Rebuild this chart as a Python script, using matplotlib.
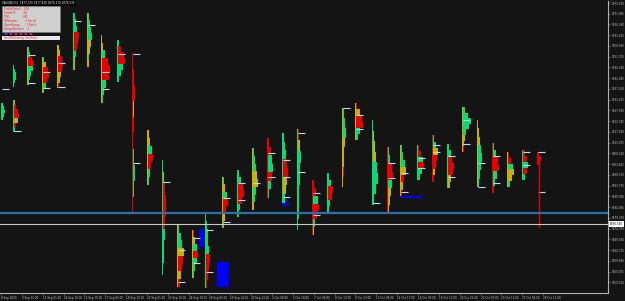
import matplotlib
matplotlib.use("Agg")
import matplotlib.pyplot as plt
from matplotlib.patches import Rectangle, Circle

# x = H1 bar index, y = price
x_ticks = [32 * k for k in range(27)]
x_labels = ["8 Sep 2020", "9 Sep 15:00", "11 Sep 01:00", "14 Sep 10:00", "15 Sep 19:00",
            "17 Sep 05:00", "18 Sep 15:00", "22 Sep 01:00", "23 Sep 10:00", "24 Sep 19:00",
            "28 Sep 05:00", "29 Sep 14:00", "30 Sep 23:00", "2 Oct 09:00", "5 Oct 18:00",
            "7 Oct 04:00", "8 Oct 13:00", "9 Oct 23:00", "13 Oct 08:00", "14 Oct 17:00",
            "16 Oct 03:00", "19 Oct 12:00", "20 Oct 21:00", "22 Oct 07:00", "23 Oct 16:00",
            "27 Oct 02:00", "28 Oct 11:00"]
y_ticks = [1975.930, 1971.095, 1966.260, 1961.425, 1956.590, 1951.755, 1946.920,
           1942.085, 1937.250, 1932.415, 1927.580, 1922.745, 1917.910, 1913.075,
           1908.240, 1903.405, 1898.570, 1893.735, 1888.900, 1884.065, 1879.230,
           1874.395, 1869.560, 1864.725, 1859.890, 1855.055, 1850.220]

# daily market profiles
prof_base = [0, 18.4, 18.4, 39.9, 62.9, 85.9, 110.5, 132.0, 153.5, 178.0,
             201.0, 224.1, 247.1, 270.1, 293.1, 313.1, 339.2, 362.2, 385.2, 408.2,
             431.3, 454.3, 477.3, 500.3, 523.3, 543.3, 569.4, 592.4, 612.3, 638.4,
             661.5, 684.5, 707.5, 730.5, 753.5, 776.6, 799.6, 822.6]
prof_top = [1930.9, 1948.0, 1932.3, 1956.1, 1951.6, 1957.0, 1971.4, 1971.4, 1961.5, 1959.3,
            1953.4, 1918.8, 1905.3, 1876.1, 1873.8, 1881.9, 1897.7, 1900.8, 1910.7, 1915.2,
            1917.5, 1919.3, 1896.3, 1899.5, 1928.7, 1931.0, 1923.3, 1911.2, 1912.1, 1912.1,
            1916.6, 1912.5, 1929.2, 1923.3, 1913.0, 1908.9, 1909.8, 1908.9]
prof_bottom = [1923.3, 1938.1, 1917.9, 1939.0, 1935.5, 1937.7, 1945.8, 1947.1, 1931.0, 1940.4,
               1881.5, 1894.1, 1853.6, 1848.2, 1852.2, 1847.7, 1874.7, 1879.7, 1882.8, 1888.2,
               1886.0, 1873.8, 1871.6, 1881.5, 1893.2, 1914.3, 1885.1, 1881.5, 1888.7, 1896.3,
               1895.4, 1892.7, 1908.9, 1893.2, 1890.5, 1893.2, 1896.3, 1903.1]
prof_tpo = [[2, 3, 4, 3, 2], [1, 2, 3, 3, 2, 1], [2, 3, 5, 6, 5, 3, 2], [2, 3, 5, 7, 6, 4, 3, 2],
            [2, 4, 6, 7, 5, 4, 2], [2, 3, 5, 6, 5, 4, 3, 2], [2, 3, 4, 6, 5, 4, 3, 2, 2],
            [2, 3, 4, 5, 4, 3, 2, 2], [1, 2, 4, 7, 9, 8, 5, 3, 2], [2, 4, 7, 8, 6, 4, 2],
            [1, 2, 3, 2, 2, 1, 2, 3, 2, 1], [2, 3, 5, 6, 4, 3, 2], [1, 2, 3, 4, 4, 3, 3, 2, 2, 1],
            [2, 4, 5, 7, 6, 5, 4, 3], [2, 3, 5, 6, 5, 3, 2], [1, 2, 3, 3, 4, 5, 4, 3, 2],
            [2, 3, 5, 6, 4, 3, 2], [2, 4, 6, 7, 5, 3, 2], [2, 3, 4, 5, 6, 4, 3, 2],
            [2, 4, 5, 6, 5, 4, 2], [2, 3, 4, 5, 6, 5, 4, 3], [2, 3, 4, 3, 3, 2, 2, 2, 1],
            [2, 4, 6, 7, 5, 3, 2], [2, 4, 6, 5, 3, 2], [2, 3, 4, 3, 2, 2, 2, 1],
            [2, 5, 7, 8, 5, 3], [1, 2, 3, 4, 5, 6, 4, 2], [2, 3, 5, 6, 5, 4, 3, 2],
            [2, 3, 5, 6, 4, 3, 2], [2, 4, 6, 7, 5, 3], [2, 4, 6, 5, 4, 3, 2],
            [2, 4, 5, 7, 6, 4, 3], [3, 6, 9, 7, 4, 3, 2, 2], [1, 2, 3, 4, 5, 4, 3, 2],
            [2, 4, 6, 7, 5, 3, 2], [2, 4, 6, 7, 5, 3], [3, 5, 6, 5, 3], [2, 4, 3]]
prof_cols = ["ggggg", "gggggg", "yrrryrg", "ggrrgggg", "gyrrrgg", "yyrrryyr", "gggrrrgyy",
             "ggggyygy", "yygrrrggg", "grrrggg", "rrryrrgggg", "yygrrgg", "yyrrrrgggg",
             "gggyrryr", "rygrggg", "gggggrrrr", "gygrryg", "ggrrrgg", "gggyyggy", "rrggrgg",
             "gggrryyg", "ryggggggg", "rrgrrgy", "ggrrgg", "gggyyyry", "ryrrgg", "ryyygggg",
             "ggrrgyyy", "gggyryr", "rrgrgg", "ggyrryr", "ggrrryy", "gggggyyr", "ryyggggg",
             "ggrrggr", "rrgyyg", "rrgrg", "rrr"]
# colour of the first (opening) TPO column
prof_open = "gggyyygyygrygyygygyrggrgyygrygrgyyrygr"
prof_marks = [[1937.3], [], [1918.4], [1952.5, 1940.0], [1944.9, 1937.7], [1948.9, 1938.1],
              [1967.8], [1966.0], [1944.9, 1937.3], [1953.0], [1953.0, 1904.0], [], [1895.4],
              [1864.8, 1850.4], [1870.2, 1859.0], [1873.8, 1854.9], [1888.2, 1877.4],
              [1895.0, 1887.3], [1895.0], [1908.5, 1897.7], [1905.3, 1897.7, 1888.7],
              [1917.5, 1899.9], [1890.5, 1880.6], [], [1928.7], [1925.6, 1919.3], [1886.0],
              [1904.0, 1897.2], [1899.5, 1890.9], [1906.2, 1901.7], [1912.1, 1908.9],
              [1907.1, 1897.7], [1923.3, 1912.5], [1904.0, 1893.2], [1907.1, 1895.0], [],
              [1908.9, 1903.1], [1908.9, 1890.9]]

# blue boxes: left bar, right bar, low, high
box_left = [303.9, 331.5, 431.3, 612.3]
box_right = [311.6, 349.9, 442.0, 646.1]
box_low = [1866.2, 1848.2, 1884.6, 1888.2]
box_high = [1874.3, 1859.4, 1886.0, 1889.1]

last_bar = 825.7
last_low = 1875.2
level_line = 1881.5
bid_price = 1876.53

info_lines = ["ProfileDetail  : 100", "ProfileTF       : D1", "TPO              : M1",
              "IBNumber       : 1 Per(s)", "OpenRange     : 1 Pip(s)", "RangeNumber  : 3"]

col_map = {"g": "#00dd78", "r": "#e80000", "y": "#c8b000"}
tpo_w = 1.5
bg = "#141414"

fig = plt.figure(figsize=(6.25, 3.01), dpi=100, facecolor=bg)
ax = fig.add_axes([0.0, 8 / 301, 608 / 625, 292 / 301], facecolor=bg)

for i in range(len(prof_base)):
    n = len(prof_tpo[i])
    h = (prof_top[i] - prof_bottom[i]) / n
    ys = [prof_top[i] - (k + 0.5) * h for k in range(n)]
    ws = [c * tpo_w for c in prof_tpo[i]]
    cs = [col_map[c] for c in prof_cols[i]]
    ax.barh(ys, ws, left=prof_base[i], height=h, color=cs, linewidth=0)
    ax.barh(ys, [tpo_w] * n, left=prof_base[i], height=h,
            color=col_map[prof_open[i]], linewidth=0)
    for m in prof_marks[i]:
        ax.plot([prof_base[i] + 2, prof_base[i] + 12], [m, m], color="#b8dcf0", lw=0.8,
                solid_capstyle="butt")

for i in range(len(box_left)):
    ax.add_patch(Rectangle((box_left[i], box_low[i]), box_right[i] - box_left[i],
                           box_high[i] - box_low[i], color="#0000ff", lw=0))

ax.plot([last_bar, last_bar], [prof_bottom[-1], last_low], color="#e80000", lw=1)
ax.axhline(level_line, color="#2f6fa8", lw=1.6)
ax.axhline(bid_price, color="#c8c8c8", lw=0.8)

ax.set_xlim(-1.5, 931.6)
ax.set_ylim(1845.49, 1976.83)
ax.set_xticks(x_ticks)
ax.set_xticklabels(x_labels, fontsize=2.0, color="#c0c0c0", ha="left")
ax.yaxis.tick_right()
ax.set_yticks(y_ticks)
ax.set_yticklabels(["%.3f" % v for v in y_ticks], fontsize=2.0, color="#c0c0c0")
ax.tick_params(axis="both", length=1.5, width=0.4, color="#a0a0a0", pad=1)
for s in ["top", "left"]:
    ax.spines[s].set_visible(False)
for s in ["right", "bottom"]:
    ax.spines[s].set_color("#b0b0b0")
    ax.spines[s].set_linewidth(0.8)

# current price tag
ax.text(1.003, (bid_price - 1845.49) / (1976.83 - 1845.49), "%.3f" % bid_price,
        transform=ax.transAxes, fontsize=2.0, color="#000000", va="center", ha="left",
        bbox=dict(boxstyle="square,pad=0.3", fc="#ffffff", ec="none"))


def fpx(x, y):
    return x / 625, 1 - y / 301


# info panel
fig.patches.append(Rectangle(fpx(0, 6), 76 / 625, 6 / 301, transform=fig.transFigure,
                             fc="#000000", ec="none"))
fig.text(*fpx(2, 3), "XAUUSD,H1  1877.270 1877.430 1876.370 1876.530", fontsize=2.0,
         color="#ffffff", va="center")
fig.patches.append(Rectangle(fpx(2, 32), 58 / 625, 26 / 301, transform=fig.transFigure,
                             fc="#cfcfcf", ec="#808080", lw=0.4))
for k, t in enumerate(info_lines):
    fig.text(*fpx(4, 9 + 4 * k), t, fontsize=2.0, color="#e02020", va="center")
circ_cols = ["#4060ff", "#ff30a0", "#ff30a0", "#ff30a0", "#ff30a0", "#ff30a0"]
for k, c in enumerate(circ_cols):
    fig.patches.append(Circle(fpx(6 + 5 * k, 34), 1.6 / 625, transform=fig.transFigure,
                              fc=c, ec="none"))
fig.patches.append(Rectangle(fpx(2, 40), 58 / 625, 4 / 301, transform=fig.transFigure,
                             fc="#e8e8e8", ec="none"))
fig.text(*fpx(4, 38), "On/Off Setting: On(Hide)", fontsize=2.0, color="#e02020", va="center")

fig.savefig("out.png", dpi=100, facecolor=bg)
